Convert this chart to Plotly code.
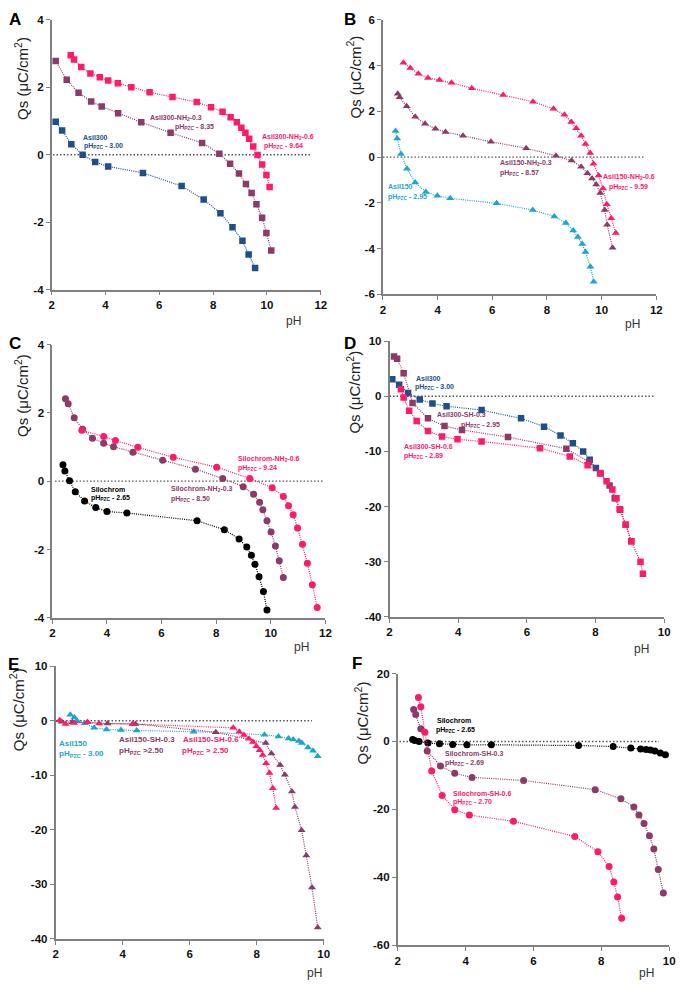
import plotly.graph_objects as go

# ---------------- DATA ----------------
# Panel A
A_asil300_x = [2.15, 2.39, 2.73, 3.15, 3.62, 4.10, 5.39, 6.83, 7.65, 8.27, 8.72, 9.09, 9.32, 9.56]
A_asil300_y = [0.98, 0.72, 0.31, 0.00, -0.22, -0.35, -0.54, -0.93, -1.33, -1.74, -2.15, -2.55, -2.96, -3.36]
A_nh03_x = [2.15, 2.56, 3.00, 3.47, 3.86, 4.47, 5.33, 6.42, 7.59, 8.23, 8.63, 8.96, 9.22, 9.43, 9.61, 9.82, 9.98, 10.16]
A_nh03_y = [2.78, 2.22, 1.84, 1.58, 1.43, 1.23, 0.96, 0.65, 0.35, 0.03, -0.27, -0.56, -0.87, -1.14, -1.47, -1.87, -2.32, -2.84]
A_nh06_x = [2.71, 2.83, 3.10, 3.44, 3.79, 4.10, 4.46, 4.96, 5.64, 6.49, 7.39, 7.92, 8.35, 8.65, 8.88, 9.05, 9.20, 9.34, 9.49, 9.65, 9.82, 9.98, 10.10]
A_nh06_y = [2.95, 2.82, 2.60, 2.41, 2.30, 2.20, 2.12, 2.00, 1.85, 1.71, 1.56, 1.41, 1.27, 1.11, 0.96, 0.80, 0.65, 0.47, 0.24, -0.01, -0.29, -0.60, -0.96]

# Panel B
B_asil150_x = [2.46, 2.52, 2.66, 2.88, 3.18, 3.57, 3.99, 4.46, 6.16, 7.48, 8.27, 8.69, 8.96, 9.13, 9.29, 9.41, 9.59, 9.71]
B_asil150_y = [1.14, 0.81, 0.14, -0.51, -1.11, -1.52, -1.69, -1.80, -2.02, -2.31, -2.59, -2.88, -3.20, -3.49, -3.79, -4.15, -4.79, -5.44]
B_nh03_x = [2.54, 2.61, 2.87, 3.18, 3.54, 3.92, 4.29, 4.93, 5.95, 7.24, 8.33, 8.90, 9.25, 9.48, 9.65, 9.80, 9.95, 10.11, 10.20, 10.40]
B_nh03_y = [2.77, 2.62, 2.22, 1.76, 1.46, 1.24, 1.10, 0.93, 0.67, 0.39, 0.06, -0.15, -0.42, -0.70, -0.93, -1.19, -1.57, -2.31, -2.95, -3.96]
B_nh06_x = [2.75, 3.00, 3.30, 3.65, 4.07, 4.51, 5.25, 6.40, 7.49, 8.24, 8.64, 8.89, 9.07, 9.25, 9.41, 9.58, 9.70, 9.89, 10.05, 10.19, 10.35, 10.52]
B_nh06_y = [4.12, 3.90, 3.64, 3.46, 3.37, 3.25, 3.01, 2.71, 2.42, 2.11, 1.85, 1.54, 1.26, 0.93, 0.57, 0.18, -0.29, -0.80, -1.37, -2.06, -2.67, -3.31]

# Panel C
C_silo_x = [2.39, 2.46, 2.63, 2.84, 3.18, 3.59, 4.00, 4.73, 7.30, 8.30, 8.84, 9.12, 9.29, 9.42, 9.57, 9.73, 9.86]
C_silo_y = [0.48, 0.30, 0.01, -0.31, -0.58, -0.77, -0.89, -0.93, -1.16, -1.42, -1.69, -1.93, -2.17, -2.43, -2.80, -3.23, -3.77]
C_nh03_x = [2.48, 2.58, 2.80, 3.11, 3.47, 3.88, 4.24, 4.95, 6.04, 7.24, 8.24, 8.99, 9.37, 9.59, 9.71, 9.86, 10.01, 10.17, 10.31, 10.46]
C_nh03_y = [2.41, 2.27, 1.86, 1.52, 1.26, 1.11, 1.01, 0.85, 0.61, 0.35, 0.08, -0.16, -0.38, -0.62, -0.84, -1.16, -1.49, -1.90, -2.33, -2.82]
C_nh06_x = [3.08, 3.88, 4.31, 5.13, 6.43, 8.02, 9.23, 10.05, 10.46, 10.65, 10.82, 10.98, 11.16, 11.34, 11.52, 11.70]
C_nh06_y = [1.49, 1.31, 1.19, 0.99, 0.70, 0.41, 0.08, -0.19, -0.45, -0.72, -0.98, -1.37, -1.85, -2.40, -3.03, -3.70]

# Panel D
D_asil300_x = [2.08, 2.28, 2.54, 2.88, 3.25, 3.66, 4.68, 5.83, 6.50, 6.98, 7.34, 7.64, 7.83, 8.01]
D_asil300_y = [3.1, 2.1, 0.6, -0.6, -1.3, -1.8, -2.5, -4.0, -5.5, -7.1, -8.5, -10.0, -11.5, -13.0]
D_sh03_x = [2.13, 2.22, 2.41, 2.67, 3.12, 3.60, 4.11, 5.45, 7.15, 7.81, 8.15, 8.41, 8.56, 8.72, 8.88, 9.04]
D_sh03_y = [7.2, 6.8, 4.2, -1.2, -4.0, -5.4, -6.1, -7.4, -9.5, -11.9, -14.0, -16.2, -18.5, -20.6, -23.3, -26.3]
D_sh06_x = [2.33, 2.41, 2.57, 2.79, 3.12, 3.53, 3.98, 4.68, 6.38, 7.25, 7.77, 8.13, 8.32, 8.49, 8.61, 8.70, 8.88, 9.04, 9.31, 9.38]
D_sh06_y = [1.3, -0.2, -2.6, -4.5, -6.3, -7.3, -7.8, -8.2, -9.4, -10.9, -12.5, -13.9, -15.4, -16.9, -18.5, -20.5, -23.3, -26.3, -30.0, -32.2]

# Panel E
E_asil150_x = [2.44, 2.56, 2.64, 2.87, 3.15, 3.52, 3.95, 4.42, 6.12, 8.23, 8.65, 8.95, 9.09, 9.26, 9.35, 9.53, 9.68, 9.82]
E_asil150_y = [1.1, 0.6, 0.0, -0.45, -1.3, -1.6, -1.7, -1.8, -2.0, -2.57, -2.87, -3.25, -3.45, -3.7, -4.1, -4.9, -5.5, -6.5]
E_sh03_x = [2.18, 2.50, 2.95, 3.55, 4.30, 4.38, 6.78, 8.27, 8.44, 8.70, 8.84, 9.05, 9.14, 9.34, 9.48, 9.65, 9.82]
E_sh03_y = [-0.2, -0.3, -0.3, -0.5, -0.6, -0.6, -2.1, -4.1, -6.0, -8.1, -9.9, -13.0, -15.8, -20.1, -24.7, -30.6, -37.9]
E_sh06_x = [2.12, 2.30, 2.55, 2.95, 3.30, 4.30, 7.30, 7.48, 7.62, 7.77, 7.89, 7.99, 8.09, 8.18, 8.28, 8.38, 8.48, 8.58]
E_sh06_y = [0.1, -0.6, -0.4, -0.3, -0.5, -0.6, -1.3, -2.0, -2.6, -3.3, -3.9, -4.7, -5.4, -6.3, -7.8, -9.6, -12.4, -16.0]

# Panel F
F_silo_x = [2.44, 2.50, 2.63, 2.89, 3.23, 3.62, 4.04, 4.76, 7.33, 8.35, 8.87, 9.16, 9.32, 9.45, 9.58, 9.74, 9.89]
F_silo_y = [0.6, 0.3, 0.0, -0.5, -0.7, -0.9, -1.0, -1.0, -1.2, -1.5, -1.9, -2.2, -2.4, -2.5, -2.8, -3.4, -3.9]
F_sh03_x = [2.47, 2.53, 2.68, 2.87, 3.26, 3.68, 4.19, 5.71, 7.82, 8.58, 8.96, 9.11, 9.26, 9.42, 9.55, 9.68, 9.83]
F_sh03_y = [9.4, 7.9, 3.7, -2.8, -7.2, -9.4, -10.6, -11.5, -14.2, -16.9, -19.3, -21.7, -24.2, -27.8, -31.7, -37.7, -44.6]
F_sh06_x = [2.61, 2.68, 2.80, 3.00, 3.31, 3.68, 4.11, 5.41, 7.22, 7.90, 8.23, 8.37, 8.48, 8.60]
F_sh06_y = [12.9, 10.2, 2.7, -8.7, -15.9, -20.1, -21.7, -23.5, -28.0, -32.5, -36.8, -41.4, -45.8, -52.1]

# axis ranges / ticks
x_ranges = [[2, 12], [2, 12], [2, 12], [2, 10], [2, 10], [2, 10]]
y_ranges = [[-4, 4], [-6, 6], [-4, 4], [-40, 10], [-40, 10], [-60, 20]]
x_ticks = [[2, 4, 6, 8, 10, 12]] * 3 + [[2, 4, 6, 8, 10]] * 3
y_ticks = [[-4, -2, 0, 2, 4], [-6, -4, -2, 0, 2, 4, 6], [-4, -2, 0, 2, 4],
           [-40, -30, -20, -10, 0, 10], [-40, -30, -20, -10, 0, 10], [-60, -40, -20, 0, 20]]
zero_spans = [[2.05, 11.6], [2.0, 11.6], [2.1, 11.9], [2.0, 9.7], [2.0, 9.65], [2.05, 9.7]]
panel_letters = ["A", "B", "C", "D", "E", "F"]

# ---------------- STYLE ----------------
BLUE = "#1d4f8c"
PURPLE = "#8e3a68"
PINK = "#ff1a6a"
CYAN = "#1ba6cb"
BLACK = "#000000"
AXC = "#808080"
FONT = "Liberation Sans, Arial, sans-serif"
W, H = 685, 990

# plot-area pixel boxes (left, right, top, bottom)
boxes = [
    (49.3, 322.0, 14.0, 287.0),
    (385.0, 662.0, 14.0, 292.0),
    (50.0, 326.7, 342.7, 619.3),
    (391.7, 670.0, 339.3, 618.3),
    (53.3, 325.0, 668.3, 944.3),
    (400.0, 675.0, 675.7, 950.7),
]

fig = go.Figure()

series = [
    (1, A_asil300_x, A_asil300_y, BLUE, "square"),
    (1, A_nh03_x, A_nh03_y, PURPLE, "square"),
    (1, A_nh06_x, A_nh06_y, PINK, "square"),
    (2, B_asil150_x, B_asil150_y, CYAN, "triangle-up"),
    (2, B_nh03_x, B_nh03_y, PURPLE, "triangle-up"),
    (2, B_nh06_x, B_nh06_y, PINK, "triangle-up"),
    (3, C_silo_x, C_silo_y, BLACK, "circle"),
    (3, C_nh03_x, C_nh03_y, PURPLE, "circle"),
    (3, C_nh06_x, C_nh06_y, PINK, "circle"),
    (4, D_asil300_x, D_asil300_y, BLUE, "square"),
    (4, D_sh03_x, D_sh03_y, PURPLE, "square"),
    (4, D_sh06_x, D_sh06_y, PINK, "square"),
    (5, E_asil150_x, E_asil150_y, CYAN, "triangle-up"),
    (5, E_sh03_x, E_sh03_y, PURPLE, "triangle-up"),
    (5, E_sh06_x, E_sh06_y, PINK, "triangle-up"),
    (6, F_silo_x, F_silo_y, BLACK, "circle"),
    (6, F_sh03_x, F_sh03_y, PURPLE, "circle"),
    (6, F_sh06_x, F_sh06_y, PINK, "circle"),
]

for i, zl in enumerate(zero_spans):
    n = i + 1
    suf = "" if n == 1 else str(n)
    fig.add_shape(type="line", xref="x" + suf, yref="y" + suf,
                  x0=zl[0], x1=zl[1], y0=0, y1=0,
                  line=dict(color="#555555", width=1.4, dash="1.5px,2px"), layer="below")

for n, xs, ys, col, sym in series:
    suf = "" if n == 1 else str(n)
    size = 6.5 if sym == "square" else 7
    fig.add_trace(go.Scatter(
        x=xs, y=ys, xaxis="x" + suf, yaxis="y" + suf, mode="lines+markers",
        line=dict(color=col, width=1.2, dash="1px,1.2px"),
        marker=dict(color=col, symbol=sym, size=size, line=dict(width=0)),
        showlegend=False, hoverinfo="x+y"))

layout = dict(
    width=W, height=H, margin=dict(l=0, r=0, t=0, b=0),
    paper_bgcolor="white", plot_bgcolor="white", showlegend=False,
    font=dict(family=FONT, color="#222", size=11),
)
for i, b in enumerate(boxes):
    n = i + 1
    suf = "" if n == 1 else str(n)
    l, r, t, bt = b
    common = dict(showgrid=False, zeroline=False, showline=True, linecolor=AXC, linewidth=1.6,
                  ticks="outside", ticklen=4, tickwidth=1.4, tickcolor=AXC,
                  ticklabeloverflow="allow",
                  tickfont=dict(family=FONT, size=11.5, color="#111"))
    layout["xaxis" + suf] = dict(domain=[l / W, r / W], range=x_ranges[i],
                                 tickmode="array", tickvals=x_ticks[i],
                                 ticktext=["<b>%d</b>" % v for v in x_ticks[i]],
                                 anchor="y" + suf, **common)
    layout["yaxis" + suf] = dict(domain=[1 - bt / H, 1 - t / H], range=y_ranges[i],
                                 tickmode="array", tickvals=y_ticks[i],
                                 ticktext=["<b>%d</b>" % v for v in y_ticks[i]],
                                 anchor="x" + suf, **common)
fig.update_layout(**layout)


def ann(px, py, text, color, size=7, xanchor="left", angle=0):
    fig.add_annotation(x=px / W, y=1 - py / H, xref="paper", yref="paper", text=text,
                       showarrow=False, xanchor=xanchor, yanchor="middle", textangle=angle,
                       font=dict(family=FONT, size=size, color=color))


PZC = "pH<sub>PZC</sub>"
labels = [
    # A
    (79, 133, "Asil300", BLUE), (80, 142, PZC + " - 3.00", BLUE),
    (147, 113, "Asil300-NH<sub>2</sub>-0.3", PURPLE), (172, 122, PZC + " - 8.35", PURPLE),
    (260, 133, "Asil300-NH<sub>2</sub>-0.6", PINK), (262, 142, PZC + " - 9.64", PINK),
    # B
    (502, 159, "Asil150-NH<sub>2</sub>-0.3", PURPLE), (502, 169, PZC + " - 8.57", PURPLE),
    (606, 173, "Asil150-NH<sub>2</sub>-0.6", PINK), (612, 183, PZC + " - 9.59", PINK),
    (388, 183, "Asil150", CYAN), (388, 193, PZC + " - 2.95", CYAN),
    # C
    (236, 459, "Silochrom-NH<sub>2</sub>-0.6", PINK), (236, 468, PZC + " - 9.24", PINK),
    (168, 489, "Silochrom-NH<sub>2</sub>-0.3", PURPLE), (168, 499, PZC + " - 8.50", PURPLE),
    (87, 489, "Silochrom", BLACK), (87, 498, PZC + " - 2.65", BLACK),
    # D
    (416, 377, "Asil300", BLUE), (415, 386, PZC + " - 3.00", BLUE),
    (438, 414, "Asil300-SH-0.3", PURPLE), (462, 424, PZC + " - 2.95", PURPLE),
    (404, 446, "Asil300-SH-0.6", PINK), (404, 456, PZC + " - 2.89", PINK),
    # E
    (55, 747, "Asil150", CYAN), (55, 757, PZC + " - 3.00", CYAN),
    (116, 743, "Asil150-SH-0.3", PURPLE), (116, 754, PZC + " >2.50", PURPLE),
    (180, 743, "Asil150-SH-0.6", PINK), (179, 754, PZC + " > 2.50", PINK),
    # F
    (438, 723, "Silochrom", BLACK), (437, 733, PZC + " - 2.65", BLACK),
    (446, 757, "Silochrom-SH-0.3", PURPLE), (446, 766, PZC + " - 2.69", PURPLE),
    (454, 797, "Silochrom-SH-0.6", PINK), (454, 806, PZC + " - 2.70", PINK),
]
for px, py, t, c in labels:
    sz = 8 if (700 < py < 800 and px < 340) else 7
    ann(px, py, "<b>" + t + "</b>", c, size=sz)

# panel letters
letter_pos = [(4, 14), (344, 14), (4, 342), (344, 342), (3, 667), (352, 666)]
for (px, py), L in zip(letter_pos, panel_letters):
    ann(px, py, "<b>" + L + "</b>", "#000", size=17)

# y axis titles
ytitle_pos = [(18, 73), (355, 72), (18, 394), (355, 391), (14, 712), (363, 726)]
for px, py in ytitle_pos:
    ann(px, py, "Qs (μC/cm<sup>2</sup>)", "#222", size=15, xanchor="center", angle=-90)

# pH labels
ph_pos = [(294, 319), (638, 322), (302, 649), (647, 651), (316, 979), (652, 979)]
for px, py in ph_pos:
    ann(px, py, "pH", "#333", size=12, xanchor="center")

fig.write_html("out.html", config={"displayModeBar": False},
               post_script="document.body.style.margin='0';document.body.style.overflow='hidden';")
